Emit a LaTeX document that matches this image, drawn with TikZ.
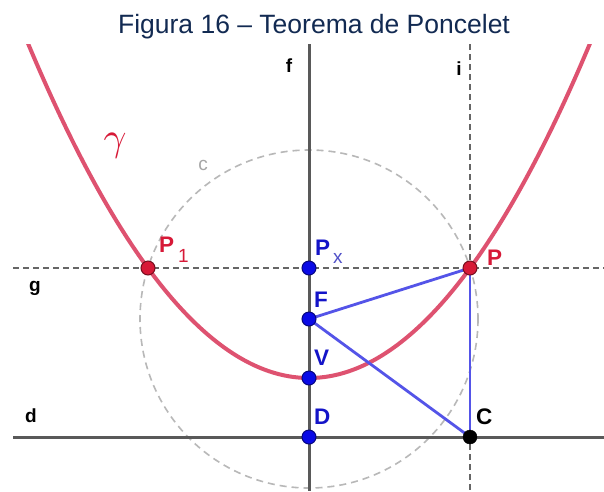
\documentclass[tikz,border=0pt]{standalone}
\usepackage{fontspec}
\setmainfont{Liberation Sans}
\setsansfont{Liberation Sans}
\begin{document}
\begin{tikzpicture}[x=1pt,y=-1pt,
  mainline/.style={draw=black!65, line width=3pt},
  auxline/.style={draw=black!60, line width=1.8pt, dash pattern=on 6pt off 4pt},
  circ/.style={draw=black!28, line width=1.6pt, dash pattern=on 7pt off 5pt},
  curve/.style={draw=parab, line width=4pt},
  seg/.style={draw=segblue, line width=2.8pt},
  bpt/.style={circle, fill=ptblue, draw=ptblue!55!black, line width=1pt, inner sep=0pt, minimum size=14pt},
  rpt/.style={circle, fill=ptred, draw=ptred!55!black, line width=1pt, inner sep=0pt, minimum size=14pt},
  kpt/.style={circle, fill=black, draw=black, inner sep=0pt, minimum size=14pt},
  lbl/.style={font=\fontsize{22.5}{22.5}\selectfont\bfseries, inner sep=0pt},
  sublbl/.style={font=\fontsize{19}{19}\selectfont, inner sep=0pt},
  linelbl/.style={font=\fontsize{19}{19}\selectfont\bfseries, text=black, inner sep=0pt}
]
\definecolor{parab}{RGB}{222,82,112}
\definecolor{segblue}{RGB}{84,84,232}
\definecolor{ptblue}{RGB}{10,10,230}
\definecolor{ptred}{RGB}{215,25,55}
\definecolor{titlecol}{RGB}{18,42,82}
\definecolor{lblblue}{RGB}{20,20,200}
\definecolor{subblue}{RGB}{80,80,200}
\useasboundingbox (0,0) rectangle (604,491);
\fill[white] (0,0) rectangle (604,491);

\node[font=\fontsize{26.5}{26.5}\selectfont, text=titlecol, inner sep=0pt, anchor=base] (title) at (314,33) {Figura 16 – Teorema de Poncelet};

% coordinates
\coordinate (Pxc) at (309,268);
\coordinate (Fc) at (309,319);
\coordinate (Vc) at (309,378);
\coordinate (Dc) at (309,437);
\coordinate (Pc) at (470,268);
\coordinate (Cc) at (470,437);
\coordinate (P1c) at (148,268);
\coordinate (ftop) at (309,44);
\coordinate (fbot) at (309,491);
\coordinate (itop) at (470,44);
\coordinate (ibot) at (470,491);
\coordinate (gl) at (13,268);
\coordinate (gr) at (604,268);
\coordinate (dl) at (13,437);
\coordinate (dr) at (604,437);

% circle c centered at F through P
\draw[circ] (Fc) circle (169);

% lines
\draw[auxline] (gl) -- (gr);
\draw[auxline] (itop) -- (ibot);
\draw[mainline] (ftop) -- (fbot);
\draw[mainline] (dl) -- (dr);

% parabola
\begin{scope}
\clip (0,44) rectangle (604,491);
\draw[curve] plot[domain=28:590, samples=120, smooth] (\x, {378-((\x-309)/15.362)^2});
\end{scope}

% segments
\draw[seg] (Fc) -- (Pc);
\draw[seg] (Fc) -- (Cc);
\draw[seg] (Pc) -- (Cc);

% points
\node[bpt] (Px) at (Pxc) {};
\node[bpt] (F) at (Fc) {};
\node[bpt] (V) at (Vc) {};
\node[bpt] (D) at (Dc) {};
\node[rpt] (P) at (Pc) {};
\node[rpt] (P1) at (P1c) {};
\node[kpt] (C) at (Cc) {};

% labels
\node[linelbl, anchor=base] (lf) at (289,72) {f};
\node[linelbl, anchor=base] (li) at (459,75) {i};
\node[linelbl, anchor=base] (lg) at (35,291) {g};
\node[linelbl, anchor=base] (ld) at (31,422) {d};
\node[text=ptred, inner sep=0pt, scale=4] (lgam) at (115,146) {$\gamma$};
\node[font=\fontsize{19}{19}\selectfont, text=black!35, anchor=base, inner sep=0pt] (lc) at (203,170) {c};
\node[lbl, text=ptred, anchor=base west] (lP1) at (159,252) {P};
\node[sublbl, text=ptred, anchor=base west] (lP1s) at (178,262) {1};
\node[lbl, text=lblblue, anchor=base west] (lPx) at (315,255) {P};
\node[sublbl, text=subblue, anchor=base west] (lPxs) at (333,263) {x};
\node[lbl, text=ptred, anchor=base west] (lP) at (487,265) {P};
\node[lbl, text=lblblue, anchor=base west] (lF) at (314,307) {F};
\node[lbl, text=lblblue, anchor=base west] (lV) at (314,365) {V};
\node[lbl, text=lblblue, anchor=base west] (lD) at (314,424) {D};
\node[lbl, text=black, anchor=base west] (lC) at (476,424) {C};
\end{tikzpicture}
\end{document}
